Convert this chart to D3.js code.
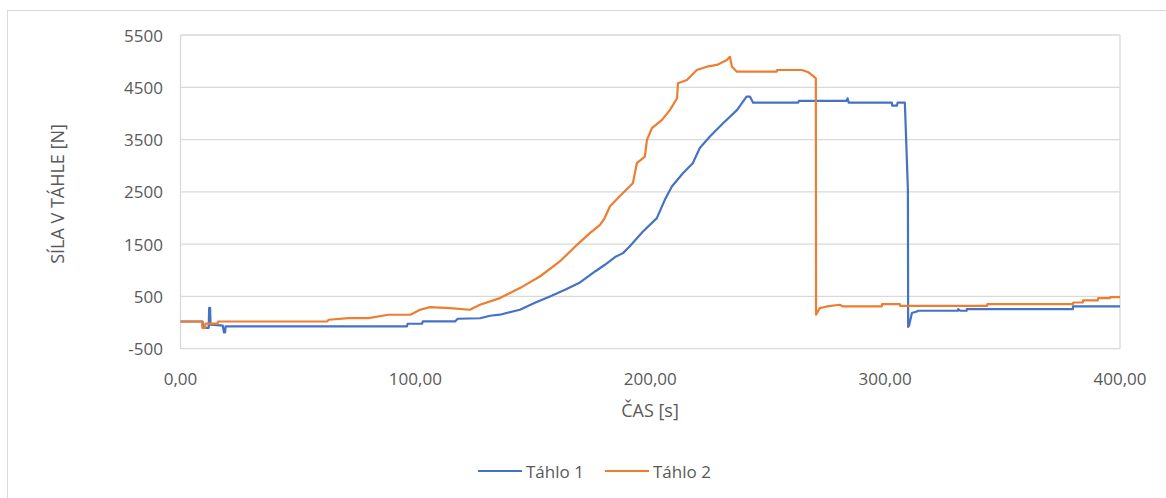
<!DOCTYPE html>
<html>
<head>
<meta charset="utf-8">
<script src="https://cdn.jsdelivr.net/npm/d3@7"></script>
<style>
  body { margin: 0; background: #fff; }
  svg { display: block; font-family: "Open Sans", sans-serif; }
</style>
</head>
<body>
<svg id="chart"></svg>
<script>
// time [s] and force [N]
const tahlo1 = [
  [0, 20], [9.4, 20], [9.6, -100], [12, -100], [12.2, 280], [12.6, 280], [12.8, -40],
  [18, -60], [18.5, -190], [19, -190], [19.2, -74], [96.4, -74], [96.7, -23],
  [102.8, -23], [103.2, 21], [116.9, 21], [118, 73], [127.5, 82], [131.8, 130],
  [136, 150], [144.5, 245], [150.9, 378], [157.3, 499], [163.7, 627], [170.1, 767],
  [176.5, 977], [180.7, 1105], [185, 1252], [188.4, 1328], [191.2, 1455],
  [196.9, 1741], [202.8, 1997], [206.2, 2347], [209.2, 2601], [213.9, 2857],
  [218.1, 3048], [221.1, 3340], [225.4, 3560], [231, 3813], [237, 4067],
  [241, 4321], [242.5, 4321], [243.8, 4206], [263, 4206], [263.3, 4239],
  [283.6, 4239], [284, 4290], [284.5, 4206], [302.9, 4206], [303, 4149],
  [305, 4149], [305.3, 4206], [308.4, 4206], [309.7, 2540], [309.8, -83],
  [310.2, -57], [311.4, 182], [313.5, 212], [314, 226], [331, 226], [331.1, 258],
  [332, 226], [334.7, 226], [334.8, 258], [379.9, 258], [380, 308], [400, 308]
];

const tahlo2 = [
  [0, 20], [9.2, 20], [9.3, -100], [10.5, -100], [10.6, -20], [15.8, -20],
  [16, 20], [62.5, 20], [63, 54], [71.5, 86], [80, 86], [88.6, 149], [97.9, 149],
  [102, 245], [106.2, 296], [114.7, 277], [123.2, 245], [127.5, 340], [136, 468],
  [144.5, 659], [153, 881], [161.5, 1168], [168.8, 1487], [174.3, 1710],
  [178.6, 1869], [180.5, 1990], [182.8, 2219], [187.1, 2420], [192.6, 2666],
  [194.3, 3048], [197.7, 3175], [198.6, 3493], [200.7, 3717], [205, 3876],
  [208.4, 4067], [211.4, 4290], [211.8, 4577], [215.6, 4640], [219.8, 4831],
  [224.1, 4894], [228.4, 4927], [232.6, 5022], [233.9, 5085], [234.8, 4894],
  [236.9, 4799], [253.9, 4799], [254, 4831], [264.5, 4831], [267.1, 4793],
  [268.8, 4736], [270.5, 4672], [270.6, 150], [272.2, 277], [275.2, 308],
  [280.7, 340], [282, 308], [298.6, 308], [298.7, 354], [306.3, 354], [306.4, 321],
  [343.4, 321], [343.5, 354], [380, 354], [380.1, 384], [384.2, 384], [384.3, 423],
  [390.6, 423], [390.7, 468], [395.7, 468], [395.8, 487], [400, 487]
];

const seriesNames = ["Táhlo 1", "Táhlo 2"];
const seriesColors = ["#4472C4", "#ED7D31"];
const yTicks = [-500, 500, 1500, 2500, 3500, 4500, 5500];
const xTicks = [0, 100, 200, 300, 400];

const W = 1166, H = 498;
const plotL = 180.5, plotR = 1120, plotT = 35, plotB = 348.7;

const svg = d3.select("#chart").attr("width", W).attr("height", H);

// chart frame
svg.append("rect")
  .attr("x", 7.5).attr("y", 10.5)
  .attr("width", 1170).attr("height", 500)
  .attr("fill", "none").attr("stroke", "#d9d9d9");

const x = d3.scaleLinear().domain([0, 400]).range([plotL, plotR]);
const y = d3.scaleLinear().domain([-500, 5500]).range([plotB, plotT]);

// gridlines
svg.append("g").selectAll("line")
  .data(yTicks)
  .enter().append("line")
    .attr("x1", plotL).attr("x2", plotR)
    .attr("y1", d => y(d)).attr("y2", d => y(d))
    .attr("stroke", "#d9d9d9").attr("stroke-width", 1.3);

svg.append("g").selectAll("line")
  .data([0, 400])
  .enter().append("line")
    .attr("x1", d => x(d)).attr("x2", d => x(d))
    .attr("y1", plotT).attr("y2", plotB)
    .attr("stroke", "#d9d9d9").attr("stroke-width", 1.3);

// tick labels
svg.append("g").selectAll("text")
  .data(yTicks)
  .enter().append("text")
    .attr("x", 163).attr("y", d => y(d))
    .attr("text-anchor", "end").attr("dominant-baseline", "central")
    .attr("font-size", 17).attr("fill", "#595959")
    .text(d => d);

const fmt = d => d3.format(".2f")(d).replace(".", ",");
svg.append("g").selectAll("text")
  .data(xTicks)
  .enter().append("text")
    .attr("x", d => x(d)).attr("y", 378)
    .attr("text-anchor", "middle").attr("dominant-baseline", "central")
    .attr("font-size", 17).attr("fill", "#595959")
    .text(fmt);

// axis titles
svg.append("text")
  .attr("x", 650).attr("y", 410)
  .attr("text-anchor", "middle").attr("dominant-baseline", "central")
  .attr("font-size", 18).attr("fill", "#595959")
  .text("ČAS [s]");

svg.append("text")
  .attr("transform", "translate(57,194) rotate(-90)")
  .attr("text-anchor", "middle").attr("dominant-baseline", "central")
  .attr("font-size", 18).attr("fill", "#595959")
  .text("SÍLA V TÁHLE [N]");

// lines
const line = d3.line().x(d => x(d[0])).y(d => y(d[1]));
[tahlo1, tahlo2].forEach((s, i) => {
  svg.append("path")
    .datum(s)
    .attr("d", line)
    .attr("fill", "none")
    .attr("stroke", seriesColors[i])
    .attr("stroke-width", 2.2)
    .attr("stroke-linejoin", "round");
});

// legend
const legendX = [478, 605];
seriesNames.forEach((name, i) => {
  const g = svg.append("g").attr("transform", "translate(" + legendX[i] + ",471)");
  g.append("line")
    .attr("x1", 0).attr("x2", 44).attr("y1", 0).attr("y2", 0)
    .attr("stroke", seriesColors[i]).attr("stroke-width", 2.2);
  g.append("text")
    .attr("x", 48).attr("y", 0)
    .attr("dominant-baseline", "central")
    .attr("font-size", 17).attr("fill", "#595959")
    .text(name);
});
</script>
</body>
</html>
